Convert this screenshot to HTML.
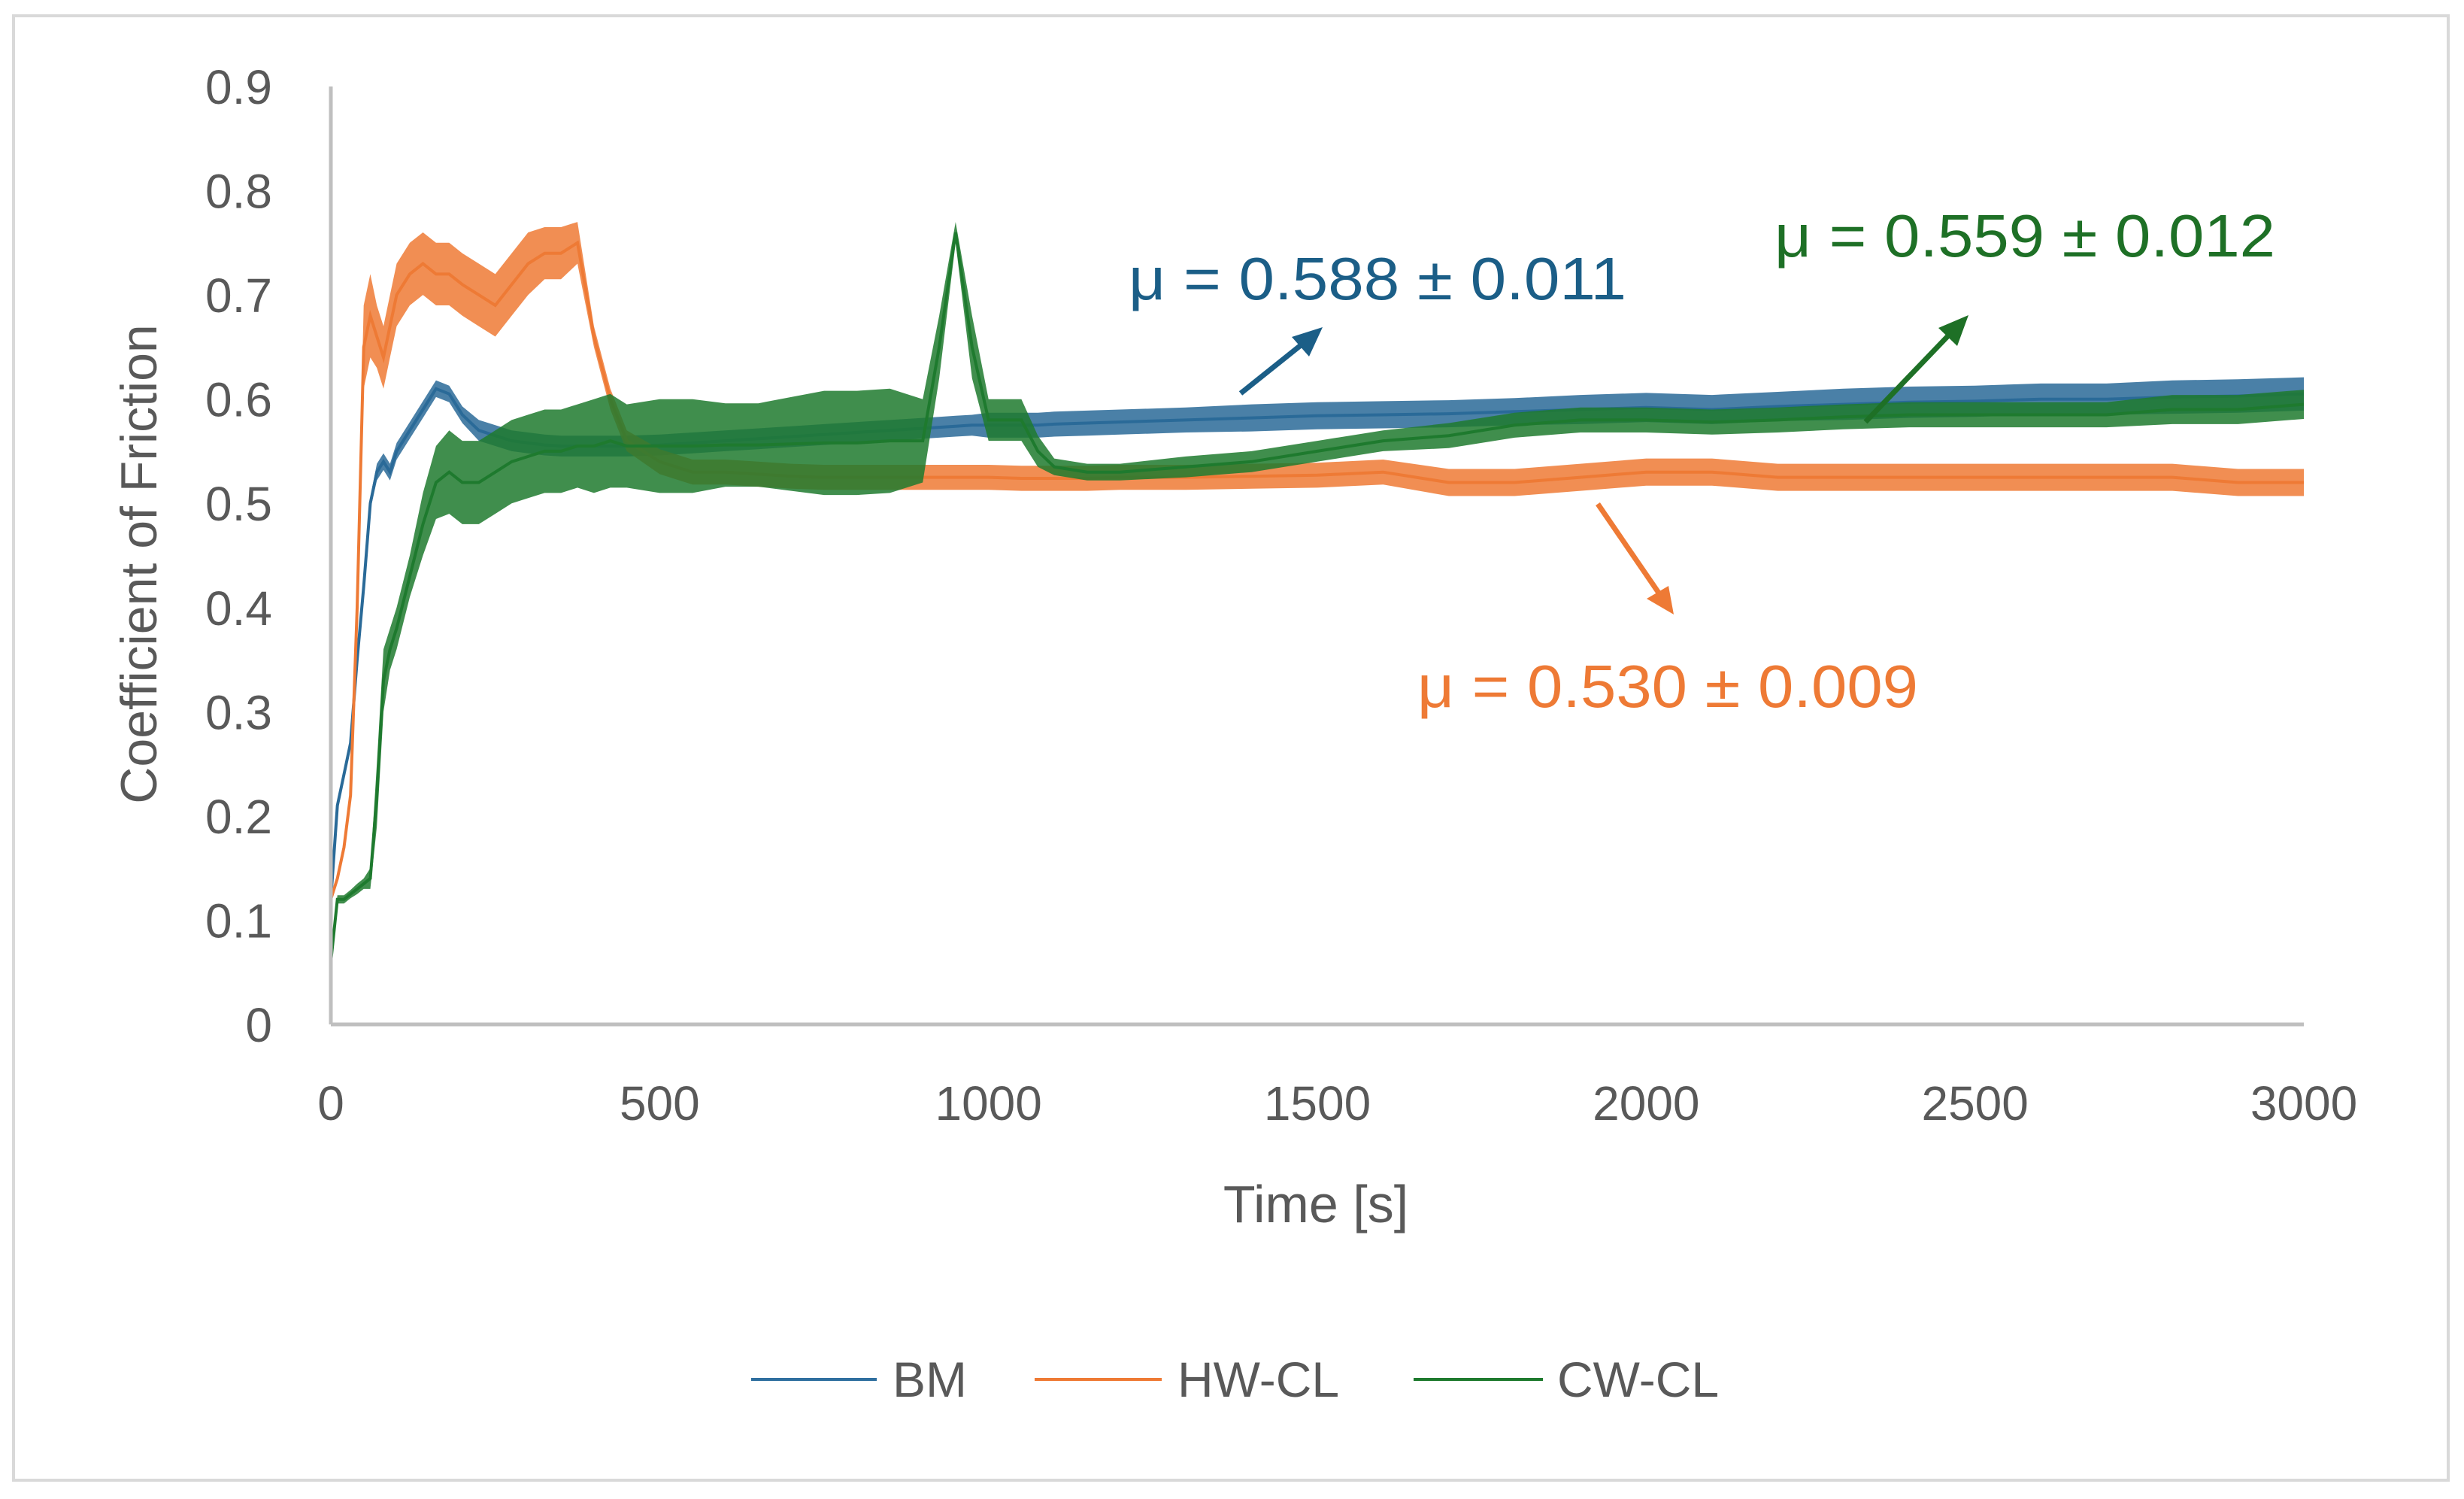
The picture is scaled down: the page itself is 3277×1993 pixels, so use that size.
<!DOCTYPE html>
<html><head><meta charset="utf-8"><style>
html,body{margin:0;padding:0;background:#fff;}
svg{display:block;font-family:"Liberation Sans",sans-serif;}
</style></head><body>
<svg id="chart" width="3277" height="1993" viewBox="0 0 3277 1993" xmlns="http://www.w3.org/2000/svg">
<rect x="18" y="21" width="3238" height="1947" fill="#fff" stroke="#d9d9d9" stroke-width="4"/>
<g id="series"></g>
<line x1="440" y1="115" x2="440" y2="1362" stroke="#bfbfbf" stroke-width="5"/>
<line x1="440" y1="1362" x2="3064" y2="1362" stroke="#bfbfbf" stroke-width="5"/>
<g id="yticks"></g>
<g id="xticks"></g>
<text x="1750" y="1625" font-size="70" fill="#595959" text-anchor="middle">Time [s]</text>
<text x="0" y="0" font-size="68" fill="#595959" text-anchor="middle" transform="translate(208,750) rotate(-90)">Coefficient of Friction</text>
<g>
<text x="1501" y="398" font-size="80" fill="#1b5e87" textLength="662" lengthAdjust="spacingAndGlyphs">μ = 0.588 ± 0.011</text>
<line x1="1650" y1="523" x2="1740" y2="451" stroke="#1b5e87" stroke-width="7"/>
<polygon points="1759,435 1718,448 1741,474" fill="#1b5e87"/>
</g>
<g>
<text x="2360" y="341" font-size="80" fill="#1e7026" textLength="666" lengthAdjust="spacingAndGlyphs">μ = 0.559 ± 0.012</text>
<line x1="2481" y1="561" x2="2600" y2="437" stroke="#1e7026" stroke-width="7"/>
<polygon points="2618,419 2578,436 2603,460" fill="#1e7026"/>
</g>
<g>
<text x="1885" y="940" font-size="80" fill="#ee7a35" textLength="666" lengthAdjust="spacingAndGlyphs">μ = 0.530 ± 0.009</text>
<line x1="2125" y1="670" x2="2212" y2="797" stroke="#ee7a35" stroke-width="7"/>
<polygon points="2226,817 2190,796 2219,779" fill="#ee7a35"/>
</g>
<g>
<g>
<line x1="999" y1="1834" x2="1166" y2="1834" stroke="#2f6f9f" stroke-width="4"/>
<text x="1187" y="1857" font-size="66" fill="#595959">BM</text>
</g>
<g>
<line x1="1376" y1="1834" x2="1545" y2="1834" stroke="#ee7a35" stroke-width="4"/>
<text x="1566" y="1857" font-size="66" fill="#595959">HW-CL</text>
</g>
<g>
<line x1="1880" y1="1834" x2="2052" y2="1834" stroke="#1e7a2e" stroke-width="4"/>
<text x="2071" y="1857" font-size="66" fill="#595959">CW-CL</text>
</g>
</g>
</svg>
<script>
const times = [0,10,20,30,40,50,60,70,80,90,100,120,140,160,180,200,225,250,275,300,325,350,375,400,425,450,500,550,600,650,700,750,800,850,900,925,950,975,1000,1050,1075,1100,1150,1200,1300,1400,1500,1600,1700,1800,1900,2000,2100,2200,2300,2400,2500,2600,2700,2800,2900,3000];
const bmValues = [0.12,0.21,0.24,0.27,0.35,0.42,0.50,0.53,0.54,0.53,0.55,0.57,0.59,0.61,0.605,0.585,0.57,0.565,0.56,0.558,0.556,0.555,0.555,0.555,0.555,0.555,0.556,0.558,0.56,0.562,0.564,0.566,0.568,0.57,0.572,0.573,0.574,0.575,0.575,0.575,0.575,0.576,0.577,0.578,0.58,0.582,0.584,0.585,0.586,0.588,0.59,0.592,0.59,0.593,0.595,0.597,0.598,0.6,0.6,0.602,0.603,0.605];
const bmBand = [0.003,0.003,0.003,0.003,0.004,0.004,0.006,0.008,0.008,0.008,0.008,0.008,0.008,0.008,0.008,0.008,0.01,0.01,0.01,0.01,0.01,0.01,0.01,0.01,0.01,0.01,0.01,0.01,0.01,0.01,0.01,0.01,0.01,0.01,0.01,0.01,0.01,0.01,0.012,0.012,0.012,0.012,0.012,0.012,0.012,0.013,0.013,0.013,0.013,0.013,0.014,0.014,0.014,0.014,0.015,0.015,0.015,0.015,0.015,0.016,0.016,0.016];
const hwValues = [0.12,0.14,0.17,0.22,0.40,0.65,0.68,0.66,0.64,0.67,0.70,0.72,0.73,0.72,0.72,0.71,0.70,0.69,0.71,0.73,0.74,0.74,0.75,0.66,0.60,0.56,0.54,0.53,0.53,0.528,0.526,0.525,0.525,0.525,0.525,0.525,0.525,0.525,0.525,0.524,0.524,0.524,0.524,0.525,0.525,0.526,0.527,0.53,0.52,0.52,0.525,0.53,0.53,0.525,0.525,0.525,0.525,0.525,0.525,0.525,0.52,0.52];
const hwBand = [0.003,0.004,0.005,0.01,0.03,0.04,0.04,0.03,0.03,0.03,0.03,0.03,0.03,0.03,0.03,0.03,0.03,0.03,0.03,0.03,0.025,0.025,0.02,0.01,0.01,0.01,0.012,0.012,0.012,0.012,0.012,0.012,0.012,0.012,0.012,0.012,0.012,0.012,0.012,0.012,0.012,0.012,0.012,0.012,0.012,0.012,0.012,0.012,0.013,0.013,0.013,0.013,0.013,0.013,0.013,0.013,0.013,0.013,0.013,0.013,0.013,0.013];
const cwValues = [0.06,0.12,0.12,0.125,0.13,0.135,0.14,0.22,0.33,0.36,0.38,0.43,0.48,0.52,0.53,0.52,0.52,0.53,0.54,0.545,0.55,0.55,0.555,0.555,0.56,0.555,0.555,0.555,0.556,0.556,0.557,0.558,0.558,0.56,0.56,0.65,0.76,0.65,0.58,0.58,0.55,0.535,0.53,0.53,0.535,0.54,0.55,0.56,0.565,0.575,0.58,0.58,0.578,0.58,0.583,0.585,0.585,0.585,0.585,0.59,0.59,0.595];
const cwBand = [0.003,0.004,0.004,0.004,0.005,0.005,0.01,0.03,0.03,0.02,0.02,0.02,0.03,0.035,0.04,0.04,0.04,0.04,0.04,0.04,0.04,0.04,0.04,0.045,0.045,0.04,0.045,0.045,0.04,0.04,0.045,0.05,0.05,0.05,0.04,0.03,0.01,0.03,0.02,0.02,0.015,0.008,0.008,0.008,0.01,0.01,0.01,0.01,0.012,0.012,0.012,0.012,0.012,0.012,0.012,0.012,0.012,0.012,0.012,0.014,0.014,0.014];
const yTickValues = [0,0.1,0.2,0.3,0.4,0.5,0.6,0.7,0.8,0.9];
const yTickLabels = ["0","0.1","0.2","0.3","0.4","0.5","0.6","0.7","0.8","0.9"];
const xTickValues = [0,500,1000,1500,2000,2500,3000];
const xTickLabels = ["0","500","1000","1500","2000","2500","3000"];

const NS = "http://www.w3.org/2000/svg";
function xScale(t){ return 440 + t * (3064 - 440) / 3000; }
function yScale(v){ return 1362 - v * (1362 - 115) / 0.9; }

const yt = document.getElementById('yticks');
yTickValues.forEach((v,i)=>{
  const t = document.createElementNS(NS,'text');
  
  
  t.setAttribute('x', 362); t.setAttribute('y', yScale(v) + 23);
  t.setAttribute('text-anchor','end'); t.setAttribute('font-size','64'); t.setAttribute('fill','#595959');
  t.textContent = yTickLabels[i]; yt.appendChild(t);
});
const xt = document.getElementById('xticks');
xTickValues.forEach((v,i)=>{
  const t = document.createElementNS(NS,'text');
  
  
  t.setAttribute('x', xScale(v)); t.setAttribute('y', 1489);
  t.setAttribute('text-anchor','middle'); t.setAttribute('font-size','64'); t.setAttribute('fill','#595959');
  t.textContent = xTickLabels[i]; xt.appendChild(t);
});

const sg = document.getElementById('series');
function drawSeries(name, vals, band, color){
  let up = [], lo = [];
  for (let i=0;i<times.length;i++){
    up.push(xScale(times[i]).toFixed(1)+','+yScale(vals[i]+band[i]).toFixed(1));
    lo.push(xScale(times[i]).toFixed(1)+','+yScale(vals[i]-band[i]).toFixed(1));
  }
  const poly = document.createElementNS(NS,'polygon');
  
  
  poly.setAttribute('points', up.concat(lo.reverse()).join(' '));
  poly.setAttribute('fill', color); poly.setAttribute('fill-opacity','0.85');
  sg.appendChild(poly);
  const line = document.createElementNS(NS,'polyline');
  
  
  line.setAttribute('points', times.map((t,i)=>xScale(t).toFixed(1)+','+yScale(vals[i]).toFixed(1)).join(' '));
  line.setAttribute('fill','none'); line.setAttribute('stroke',color); line.setAttribute('stroke-width','4');
  sg.appendChild(line);
}
drawSeries('bm', bmValues, bmBand, '#2a6a98');
drawSeries('hw-cl', hwValues, hwBand, '#ee7a35');
drawSeries('cw-cl', cwValues, cwBand, '#1e7a2e');
</script>
</body></html>
